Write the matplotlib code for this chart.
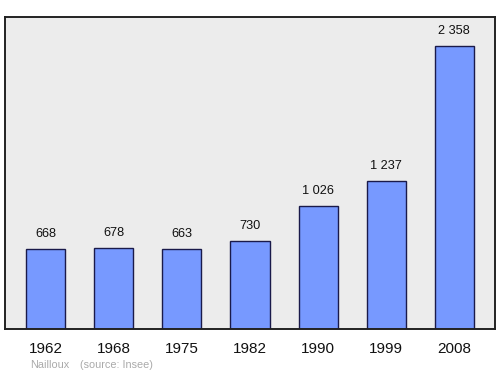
import matplotlib
matplotlib.use("Agg")
import matplotlib.pyplot as plt

plt.rcParams['font.family'] = ['Liberation Sans', 'DejaVu Sans']

# data
years = ["1962", "1968", "1975", "1982", "1990", "1999", "2008"]
population = [668, 678, 663, 730, 1026, 1237, 2358]

fig = plt.figure(figsize=(5, 3.74), dpi=100)
ax = fig.add_axes([0.01, 0.1203, 0.98, 0.834])
ax.set_facecolor("#ececec")

x = list(range(len(years)))
ax.bar(x, population, width=0.574, color="#7799ff", edgecolor="#1a1a4a", linewidth=1.0, zorder=2)

for xi, v in zip(x, population):
    label = f"{v:,}".replace(",", " ")
    ax.annotate(label, (xi, v), xytext=(0, 9), textcoords="offset pixels",
                ha="center", va="bottom", fontsize=9.2, color="#111111")

ax.set_xlim(-0.6, 6.6)
ax.set_ylim(0, 2600)
ax.set_xticks(x)
ax.set_xticklabels(years, fontsize=11, color="#111111")
ax.tick_params(axis="x", length=0, pad=9)
ax.set_yticks([])
for s in ax.spines.values():
    s.set_color("#222222")
    s.set_linewidth(1.4)

fig.text(0.061, 0.016, "Nailloux", fontsize=7.8, color="#aaaaaa", ha="left", va="baseline")
fig.text(0.159, 0.016, "(source: Insee)", fontsize=7.8, color="#aaaaaa", ha="left", va="baseline")

fig.savefig("out.png", dpi=100)
